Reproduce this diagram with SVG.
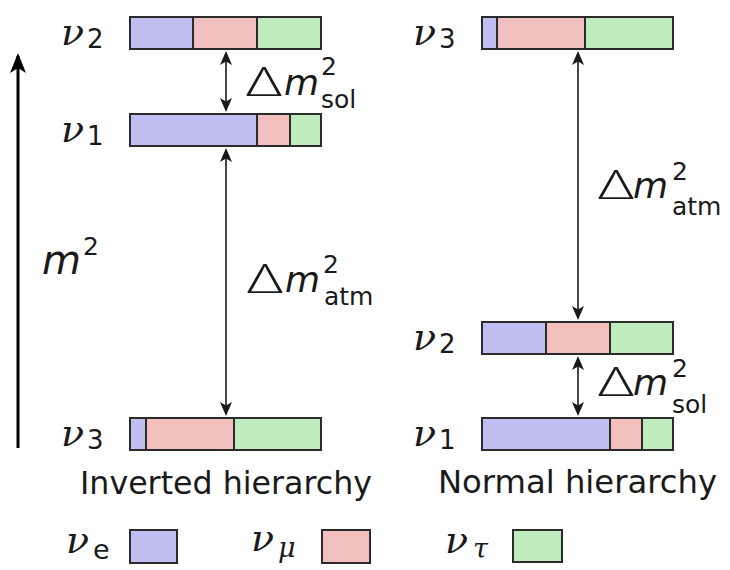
<svg xmlns="http://www.w3.org/2000/svg" width="730" height="570" viewBox="0 0 730 570">
<defs>
<style>
.bar{stroke:#2b2b2b;stroke-width:2}
.b{fill:#bfbff2}.p{fill:#f2bfbf}.g{fill:#bfecbf}
.nu{font-family:"DejaVu Serif",serif;font-style:italic;font-size:38px;fill:#1a1a1a}
.gsub{font-family:"DejaVu Serif",serif;font-style:italic;font-size:27px;fill:#1a1a1a}
.sub{font-family:"DejaVu Sans",sans-serif;font-size:26px;fill:#1a1a1a}
.ss{font-family:"DejaVu Sans",sans-serif;font-size:25px;fill:#1a1a1a}
.se{font-family:"DejaVu Sans",sans-serif;font-size:27px;fill:#1a1a1a}
.delta{font-family:"Open Sans","Noto Sans",sans-serif;font-weight:300;font-size:40px;fill:#1a1a1a}
.m{font-family:"DejaVu Sans",sans-serif;font-style:italic;font-size:36px;fill:#1a1a1a}
.mm{font-family:"DejaVu Sans",sans-serif;font-style:italic;font-size:40px;fill:#1a1a1a}
.lab{font-family:"DejaVu Sans",sans-serif;font-size:32px;fill:#1a1a1a}
.conn{stroke:#1a1a1a;stroke-width:1.6;fill:none}
.axis{stroke:#000;stroke-width:3;fill:none}
</style>
<marker id="ah" viewBox="0 0 14 14" refX="12" refY="7" markerWidth="14" markerHeight="14" markerUnits="userSpaceOnUse" orient="auto-start-reverse">
<path d="M0,1 L14,7 L0,13 L3.5,7 z" fill="#1a1a1a"/>
</marker>
<marker id="axh" viewBox="0 0 20 16" refX="17" refY="8" markerWidth="20" markerHeight="16" markerUnits="userSpaceOnUse" orient="auto">
<path d="M0,0 L20,8 L0,16 L5,8 z" fill="#000"/>
</marker>
</defs>
<rect width="730" height="570" fill="#fff"/>

<g id="connectors">
<line class="axis" x1="18" y1="448" x2="18" y2="56" marker-end="url(#axh)"/>
<line class="conn" x1="226" y1="53" x2="226" y2="110" marker-start="url(#ah)" marker-end="url(#ah)"/>
<line class="conn" x1="226" y1="150" x2="226" y2="414" marker-start="url(#ah)" marker-end="url(#ah)"/>
<line class="conn" x1="578" y1="53" x2="578" y2="318" marker-start="url(#ah)" marker-end="url(#ah)"/>
<line class="conn" x1="578" y1="358" x2="578" y2="414" marker-start="url(#ah)" marker-end="url(#ah)"/>
</g>

<g id="axis-label">
<text class="mm" x="42" y="274">m</text>
<text class="ss" x="83" y="255">2</text>
</g>

<g id="inv-nu2">
<rect class="b" x="130" y="17" width="63" height="32"/>
<rect class="p" x="193" y="17" width="64" height="32"/>
<rect class="g" x="257" y="17" width="64" height="32"/>
<rect class="bar" fill="none" x="130" y="17" width="191" height="32"/>
<line class="bar" x1="193" y1="17" x2="193" y2="49"/>
<line class="bar" x1="257" y1="17" x2="257" y2="49"/>
<text class="nu" x="61" y="45">ν</text><text class="sub" x="87" y="48">2</text>
</g>

<g id="inv-nu1">
<rect class="b" x="130" y="114" width="127" height="32"/>
<rect class="p" x="257" y="114" width="33" height="32"/>
<rect class="g" x="290" y="114" width="31" height="32"/>
<rect class="bar" fill="none" x="130" y="114" width="191" height="32"/>
<line class="bar" x1="257" y1="114" x2="257" y2="146"/>
<line class="bar" x1="290" y1="114" x2="290" y2="146"/>
<text class="nu" x="61" y="142">ν</text><text class="sub" x="87" y="145">1</text>
</g>

<g id="inv-nu3">
<rect class="b" x="130" y="418" width="16" height="32"/>
<rect class="p" x="146" y="418" width="88" height="32"/>
<rect class="g" x="234" y="418" width="87" height="32"/>
<rect class="bar" fill="none" x="130" y="418" width="191" height="32"/>
<line class="bar" x1="146" y1="418" x2="146" y2="450"/>
<line class="bar" x1="234" y1="418" x2="234" y2="450"/>
<text class="nu" x="61" y="446">ν</text><text class="sub" x="87" y="449">3</text>
</g>

<g id="inv-sol-label">
<text class="delta" x="246" y="96" textLength="36" lengthAdjust="spacingAndGlyphs">Δ</text>
<text class="m" x="284" y="95">m</text>
<text class="ss" x="321" y="75">2</text>
<text class="ss" x="321" y="108">sol</text>
</g>

<g id="inv-atm-label">
<text class="delta" x="247" y="293" textLength="36" lengthAdjust="spacingAndGlyphs">Δ</text>
<text class="m" x="285" y="292">m</text>
<text class="ss" x="323" y="273">2</text>
<text class="ss" x="324" y="305">atm</text>
</g>

<g id="norm-nu3">
<rect class="b" x="482" y="17" width="15" height="32"/>
<rect class="p" x="497" y="17" width="88" height="32"/>
<rect class="g" x="585" y="17" width="88" height="32"/>
<rect class="bar" fill="none" x="482" y="17" width="191" height="32"/>
<line class="bar" x1="497" y1="17" x2="497" y2="49"/>
<line class="bar" x1="585" y1="17" x2="585" y2="49"/>
<text class="nu" x="413" y="45">ν</text><text class="sub" x="439" y="48">3</text>
</g>

<g id="norm-nu2">
<rect class="b" x="482" y="322" width="64" height="32"/>
<rect class="p" x="546" y="322" width="64" height="32"/>
<rect class="g" x="610" y="322" width="63" height="32"/>
<rect class="bar" fill="none" x="482" y="322" width="191" height="32"/>
<line class="bar" x1="546" y1="322" x2="546" y2="354"/>
<line class="bar" x1="610" y1="322" x2="610" y2="354"/>
<text class="nu" x="413" y="350">ν</text><text class="sub" x="439" y="353">2</text>
</g>

<g id="norm-nu1">
<rect class="b" x="482" y="418" width="128" height="32"/>
<rect class="p" x="610" y="418" width="32" height="32"/>
<rect class="g" x="642" y="418" width="31" height="32"/>
<rect class="bar" fill="none" x="482" y="418" width="191" height="32"/>
<line class="bar" x1="610" y1="418" x2="610" y2="450"/>
<line class="bar" x1="642" y1="418" x2="642" y2="450"/>
<text class="nu" x="413" y="446">ν</text><text class="sub" x="439" y="449">1</text>
</g>

<g id="norm-atm-label">
<text class="delta" x="598" y="199" textLength="36" lengthAdjust="spacingAndGlyphs">Δ</text>
<text class="m" x="633" y="198">m</text>
<text class="ss" x="672" y="180">2</text>
<text class="ss" x="672" y="215">atm</text>
</g>

<g id="norm-sol-label">
<text class="delta" x="598" y="396" textLength="36" lengthAdjust="spacingAndGlyphs">Δ</text>
<text class="m" x="633" y="395">m</text>
<text class="ss" x="672" y="377">2</text>
<text class="ss" x="672" y="413">sol</text>
</g>

<g id="captions">
<text class="lab" x="80" y="494" textLength="292" lengthAdjust="spacingAndGlyphs">Inverted hierarchy</text>
<text class="lab" x="438" y="493" textLength="279" lengthAdjust="spacingAndGlyphs">Normal hierarchy</text>
</g>

<g id="legend-e">
<text class="nu" x="66" y="553">ν</text><text class="se" x="93" y="559">e</text>
<rect class="b bar" x="130" y="530" width="47" height="33"/>
</g>
<g id="legend-mu">
<text class="nu" x="251" y="551">ν</text><text class="gsub" x="278" y="557">μ</text>
<rect class="p bar" x="322" y="530" width="48" height="33"/>
</g>
<g id="legend-tau">
<text class="nu" x="445" y="553">ν</text><text class="gsub" x="473" y="558">τ</text>
<rect class="g bar" x="513" y="530" width="49" height="32"/>
</g>
</svg>
